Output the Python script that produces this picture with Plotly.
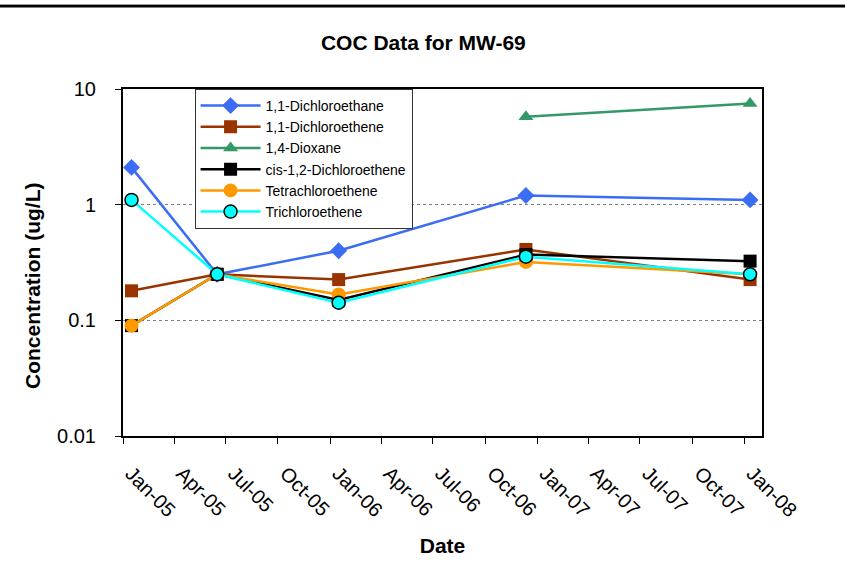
import plotly.graph_objects as go

dates = ["2005-01-16", "2005-06-16", "2006-01-16", "2006-12-12", "2008-01-11"]
dichloroethane_11 = [2.1, 0.25, 0.4, 1.2, 1.1]
dichloroethene_11 = [0.18, 0.25, 0.225, 0.41, 0.225]
dioxane_14 = [None, None, None, 5.75, 7.5]
cis_dce = [0.09, 0.25, 0.15, 0.37, 0.325]
pce = [0.09, 0.25, 0.167, 0.32, 0.25]
tce = [1.1, 0.25, 0.142, 0.355, 0.25]

tick_dates = ["2005-01-01", "2005-04-01", "2005-07-01", "2005-10-01",
              "2006-01-01", "2006-04-01", "2006-07-01", "2006-10-01",
              "2007-01-01", "2007-04-01", "2007-07-01", "2007-10-01",
              "2008-01-01"]
y_ticks = [0.01, 0.1, 1, 10]
y_tick_text = ["0.01", "0.1", "1", "10"]

series = [
    ("1,1-Dichloroethane", dichloroethane_11, "#3a6cf4", "diamond", 13, None),
    ("1,1-Dichloroethene", dichloroethene_11, "#993300", "square", 13, None),
    ("1,4-Dioxane", dioxane_14, "#339966", "triangle-up", 13, None),
    ("cis-1,2-Dichloroethene", cis_dce, "#000000", "square", 13, None),
    ("Tetrachloroethene", pce, "#ff9900", "circle", 14, None),
    ("Trichloroethene", tce, "#00ffff", "circle", 13, "#000000"),
]

fig = go.Figure()
for name, vals, color, sym, size, edge in series:
    marker = dict(symbol=sym, size=size, color=color)
    if edge:
        marker["line"] = dict(color=edge, width=1.5)
    fig.add_trace(go.Scatter(
        x=dates, y=vals, name=name, mode="lines+markers",
        line=dict(color=color, width=2.5), marker=marker,
        connectgaps=False,
    ))

font_family = "Arial, Liberation Sans, sans-serif"
fig.update_layout(
    width=845, height=583,
    margin=dict(l=123, r=83, t=89, b=147),
    paper_bgcolor="white", plot_bgcolor="white",
    font=dict(family=font_family, color="black", size=20),
    title=dict(text="<b>COC Data for MW-69</b>", x=0.501, xref="container",
               xanchor="center",
               y=1 - 43 / 583, yanchor="middle", font=dict(size=21)),
    showlegend=True,
    legend=dict(x=0.112, y=1.0, xanchor="left", yanchor="top",
                bgcolor="white", bordercolor="#333333", borderwidth=1,
                font=dict(size=14), tracegroupgap=0, itemwidth=60),
    xaxis=dict(
        type="date", range=["2005-01-01", "2008-02-01"],
        tickvals=tick_dates, tickformat="%b-%y", tickangle=45,
        ticks="outside", ticklen=6, tickcolor="black",
        ticklabelstandoff=10, ticklabelshift=8,
        showline=True, linecolor="black", linewidth=2, mirror=True,
        showgrid=False, zeroline=False,
        title=dict(text="<b>Date</b>", font=dict(size=21), standoff=18),
        tickfont=dict(size=20),
    ),
    yaxis=dict(
        type="log", range=[-2, 1],
        tickvals=y_ticks, ticktext=y_tick_text,
        ticks="outside", ticklen=6, tickcolor="black",
        ticklabelstandoff=15,
        showline=True, linecolor="black", linewidth=2, mirror=True,
        showgrid=True, gridcolor="#808080", gridwidth=1, griddash="dot",
        zeroline=False,
        tickfont=dict(size=20),
    ),
    annotations=[
        dict(text="<b>Concentration (ug/L)</b>", textangle=-90,
             xref="paper", yref="paper", x=(32 - 123) / 639, y=(436 - 286) / 347,
             xanchor="center", yanchor="middle", showarrow=False,
             font=dict(size=21)),
    ],
    shapes=[
        dict(type="line", xref="paper", yref="paper",
             x0=-123 / 639, x1=722 / 639, y0=(436 - 4.5) / 347, y1=(436 - 4.5) / 347,
             line=dict(color="#999999", width=1)),
        dict(type="line", xref="paper", yref="paper",
             x0=-123 / 639, x1=722 / 639, y0=(436 - 6.3) / 347, y1=(436 - 6.3) / 347,
             line=dict(color="black", width=2.5)),
    ],
)

fig.write_html("out.html")
